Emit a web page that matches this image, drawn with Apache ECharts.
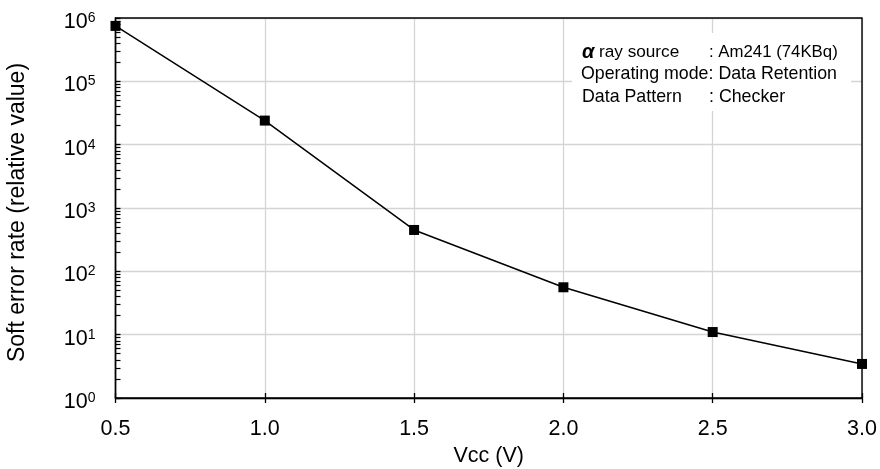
<!DOCTYPE html>
<html>
<head>
<meta charset="utf-8">
<script src="https://cdn.jsdelivr.net/npm/echarts@6/dist/echarts.min.js"></script>
<style>html,body{margin:0;padding:0;background:#fff}#c{width:880px;height:469px}</style>
</head>
<body>
<div id="c"></div>
<script>
// Data
var vcc = [0.5, 1.0, 1.5, 2.0, 2.5, 3.0];
var softErrorRate = [750000, 24000, 450, 56, 11, 3.45];
var xTicks = [0.5, 1.0, 1.5, 2.0, 2.5, 3.0];
var yDecades = [1, 10, 100, 1000, 10000, 100000, 1000000];
var annotLabels = ['ray source', 'Operating mode', 'Data Pattern'];
var annotValues = [': Am241 (74KBq)', ': Data Retention', ': Checker'];

var minorTicks = [];
for (var d = 0; d < yDecades.length - 1; d++) {
  for (var k = 2; k <= 9; k++) minorTicks.push(yDecades[d] * k);
}

var FONT = '"Liberation Sans", Arial, sans-serif';
var chart = echarts.init(document.getElementById('c'));
var grid = {left: 115.5, right: 18, top: 18, bottom: 71, outerBoundsMode: 'none', containLabel: false};
var AF = '17.8px ' + FONT;

chart.setOption({
  animation: false,
  backgroundColor: '#fff',
  grid: grid,
  xAxis: [{
    type: 'value', min: 0.5, max: 3.0, interval: 0.5,
    name: 'Vcc (V)', nameLocation: 'middle', nameGap: 47,
    nameTextStyle: {fontFamily: FONT, fontSize: 21.5, color: '#000'},
    axisLine: {show: true, lineStyle: {color: '#000', width: 1.4}},
    axisTick: {show: true, inside: false, length: 5, lineStyle: {color: '#000', width: 1.3}},
    axisLabel: {fontFamily: FONT, fontSize: 21.5, color: '#000', margin: 20,
      formatter: function (v) { return v.toFixed(1); }},
    splitLine: {show: true, lineStyle: {color: '#d4d4d4', width: 1.3}}
  }, {
    type: 'value', min: 0.5, max: 3.0, interval: 0.5, position: 'bottom',
    axisLine: {show: false}, axisLabel: {show: false}, splitLine: {show: false},
    axisTick: {show: true, inside: true, length: 5, lineStyle: {color: '#000', width: 1.3}}
  }],
  yAxis: [{
    type: 'log', logBase: 10, min: 1, max: 1000000,
    name: 'Soft error rate (relative value)', nameLocation: 'middle', nameGap: 86,
    nameTextStyle: {fontFamily: FONT, fontSize: 23, color: '#000', padding: [0, 0, 0, -9]},
    axisLine: {show: true, lineStyle: {color: '#000', width: 1.4}},
    axisTick: {show: true, inside: true, length: 5, lineStyle: {color: '#000', width: 1.3}},
    axisLabel: {
      margin: 20,
      padding: [8, 0, 0, 0],
      formatter: function (v) {
        var e = Math.round(Math.log10(v));
        return '{b|10}{s|' + e + '}';
      },
      rich: {
        b: {fontFamily: FONT, fontSize: 21.5, color: '#000', lineHeight: 22},
        s: {fontFamily: FONT, fontSize: 14, color: '#000', verticalAlign: 'top', lineHeight: 14}
      }
    },
    splitLine: {show: true, lineStyle: {color: '#d4d4d4', width: 1.3}}
  }, {
    type: 'log', logBase: 10, min: 1, max: 1000000, position: 'left',
    axisLine: {show: false},
    axisLabel: {show: false},
    splitLine: {show: false},
    axisTick: {show: true, inside: true, length: 5, customValues: minorTicks,
      lineStyle: {color: '#000', width: 1.2}}
  }],
  graphic: [{
    type: 'rect', shape: {x: 572, y: 33, width: 279, height: 78}, style: {fill: '#fff'}, z: 10
  }, {
    type: 'rect', shape: {x: 115.5, y: 18, width: 746.5, height: 380}, style: {fill: 'none', stroke: '#000', lineWidth: 1.4}, z: 11, silent: true
  }, {
    type: 'text', x: 582, y: 52, z: 12,
    style: {text: 'α', font: 'italic bold 20px ' + FONT, fill: '#000', verticalAlign: 'middle'}
  }, {
    type: 'text', x: 599, y: 52, z: 12,
    style: {text: annotLabels[0], font: '17.2px ' + FONT, fill: '#000', verticalAlign: 'middle'}
  }, {
    type: 'text', x: 709, y: 52, z: 12,
    style: {text: annotValues[0], font: '16.8px ' + FONT, fill: '#000', verticalAlign: 'middle'}
  }, {
    type: 'text', x: 581, y: 74.5, z: 12,
    style: {text: annotLabels[1] + annotValues[1], font: AF, fill: '#000', verticalAlign: 'middle'}
  }, {
    type: 'text', x: 582, y: 97, z: 12,
    style: {text: annotLabels[2], font: AF, fill: '#000', verticalAlign: 'middle'}
  }, {
    type: 'text', x: 709, y: 97, z: 12,
    style: {text: annotValues[2], font: AF, fill: '#000', verticalAlign: 'middle'}
  }],
  series: [{
    type: 'line',
    data: vcc.map(function (x, i) { return [x, softErrorRate[i]]; }),
    symbol: 'rect', symbolSize: 10,
    itemStyle: {color: '#000'},
    lineStyle: {color: '#000', width: 1.5},
    z: 13
  }]
});
</script>
</body>
</html>
